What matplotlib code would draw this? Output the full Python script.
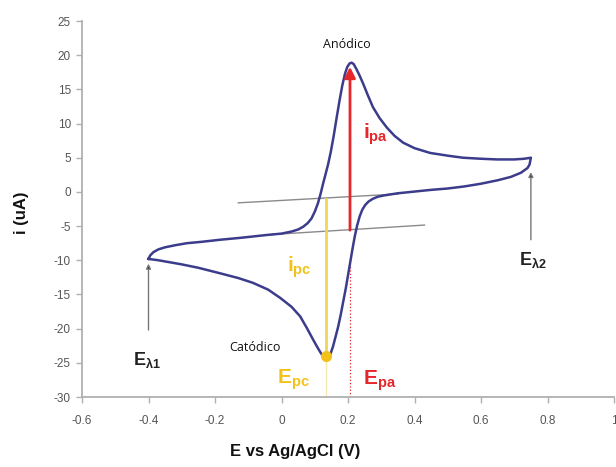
import matplotlib
matplotlib.use("Agg")
import matplotlib.pyplot as plt

plt.rcParams['mathtext.fontset'] = 'custom'
plt.rcParams['mathtext.rm'] = 'Liberation Sans'
plt.rcParams['mathtext.bf'] = 'Liberation Sans:bold'
plt.rcParams['mathtext.it'] = 'Liberation Sans:italic'

# Forward (anodic) sweep: from E_lambda1 to E_lambda2 (upper branch)
fwd_E = [-0.400, -0.395, -0.385, -0.370, -0.350, -0.320, -0.284, -0.240, -0.185, -0.120,
         -0.044, 0.000, 0.030, 0.050, 0.065, 0.078, 0.090, 0.100, 0.110, 0.118,
         0.125, 0.132, 0.140, 0.148, 0.157, 0.166, 0.175, 0.183, 0.191, 0.198,
         0.205, 0.211, 0.217, 0.225, 0.235, 0.245, 0.260, 0.275, 0.295, 0.317,
         0.340, 0.366, 0.400, 0.447, 0.500, 0.546, 0.600, 0.648, 0.700, 0.730,
         0.750]
fwd_i = [-9.8, -9.3, -8.8, -8.4, -8.1, -7.8, -7.5, -7.3, -7.0, -6.7,
         -6.3, -6.1, -5.8, -5.5, -5.1, -4.6, -3.9, -2.9, -1.6, -0.2,
         1.2, 2.5, 4.0, 5.8, 8.2, 10.9, 13.5, 15.6, 17.3, 18.3,
         18.8, 18.9, 18.7, 18.0, 17.0, 15.9, 14.1, 12.4, 10.8, 9.4,
         8.2, 7.2, 6.4, 5.7, 5.3, 5.0, 4.85, 4.75, 4.75, 4.85,
         5.0]
# Reverse (cathodic) sweep: from E_lambda2 back to E_lambda1 (lower branch)
rev_E = [0.750, 0.746, 0.740, 0.720, 0.690, 0.650, 0.600, 0.550, 0.500, 0.450,
         0.400, 0.350, 0.310, 0.290, 0.275, 0.262, 0.252, 0.243, 0.235, 0.227,
         0.220, 0.214, 0.207, 0.200, 0.193, 0.185, 0.178, 0.170, 0.162, 0.155,
         0.148, 0.141, 0.135, 0.128, 0.120, 0.110, 0.095, 0.075, 0.056, 0.030,
         -0.004, -0.040, -0.086, -0.130, -0.185, -0.250, -0.300, -0.335, -0.370, -0.400]
rev_i = [5.0, 4.0, 3.5, 2.8, 2.2, 1.7, 1.2, 0.8, 0.5, 0.3,
         0.05, -0.2, -0.5, -0.7, -1.0, -1.4, -1.9, -2.6, -3.6, -5.0,
         -6.6, -8.2, -10.2, -12.2, -14.2, -16.2, -18.0, -19.8, -21.3, -22.6,
         -23.6, -24.2, -24.3, -24.1, -23.7, -22.9, -21.6, -19.8, -18.2, -16.8,
         -15.5, -14.3, -13.3, -12.6, -11.9, -11.1, -10.6, -10.3, -10.0, -9.8]

# Baselines
base_up_E = [-0.13, 0.35]
base_up_i = [-1.6, -0.3]
base_lo_E = [-0.05, 0.43]
base_lo_i = [-6.3, -4.85]

# Peak values
Epa, ipa_top, ipa_base = 0.206, 18.3, -5.6
Epc, ipc_bot, ipc_base = 0.134, -24.0, -1.0

xticks = [-0.6, -0.4, -0.2, 0, 0.2, 0.4, 0.6, 0.8, 1]
xtick_labels = ['-0.6', '-0.4', '-0.2', '0', '0.2', '0.4', '0.6', '0.8', '1']
yticks = [-30, -25, -20, -15, -10, -5, 0, 5, 10, 15, 20, 25]
ytick_labels = [str(v) for v in yticks]

RED = '#e5262b'
YEL = '#f2c21b'
YEL_LINE = '#eed55c'
CURVE = '#3c3c8c'
TICKC = '#555555'

fig = plt.figure(figsize=(6.16, 4.67), dpi=100)
ax = fig.add_axes([82/616, 70/467, 532/616, 376/467])

ax.plot(fwd_E + rev_E, fwd_i + rev_i, color=CURVE, lw=1.8, zorder=3,
        solid_joinstyle='round')
ax.plot(base_up_E, base_up_i, color='#8a8a8a', lw=1.0, zorder=2)
ax.plot(base_lo_E, base_lo_i, color='#8a8a8a', lw=1.0, zorder=2)

# dotted guides to axis
ax.plot([Epa, Epa], [-30, -10.5], color=RED, lw=0.9, ls=':', zorder=2)
ax.plot([Epc, Epc], [-30, ipc_bot], color=YEL_LINE, lw=0.9, ls='-', alpha=0.5, zorder=2)

# i_pc line with dot
ax.plot([Epc, Epc], [ipc_base, ipc_bot], color=YEL_LINE, lw=2.0, zorder=4)
ax.plot([Epc], [ipc_bot], 'o', color=YEL, ms=7, zorder=5)

# i_pa arrow
ax.annotate('', xy=(Epa, ipa_top), xytext=(Epa, ipa_base),
            arrowprops=dict(arrowstyle='-|>', color=RED, lw=2.0, mutation_scale=16,
                            shrinkA=0, shrinkB=0), zorder=5)

# E_lambda arrows
ax.annotate('', xy=(-0.40, -10.5), xytext=(-0.40, -20.2),
            arrowprops=dict(arrowstyle='-|>', color='#777777', lw=1.0, mutation_scale=7,
                            shrinkA=0, shrinkB=0, fc='#222222', ec='#777777'))
ax.annotate('', xy=(0.75, 2.9), xytext=(0.75, -7.0),
            arrowprops=dict(arrowstyle='-|>', color='#777777', lw=1.0, mutation_scale=7,
                            shrinkA=0, shrinkB=0, fc='#222222', ec='#777777'))

# texts
ax.text(0.196, 21.5, 'Anódico', fontsize=9, family='Open Sans', ha='center', va='center', color='#111111')
ax.text(-0.08, -22.7, 'Catódico', fontsize=9, family='Open Sans', ha='center', va='center', color='#111111')
ax.text(0.245, 8.5, r'$\mathbf{i_{pa}}$', fontsize=15, color=RED, ha='left', va='center')
ax.text(0.017, -11.0, r'$\mathbf{i_{pc}}$', fontsize=15, color=YEL, ha='left', va='center')
ax.text(0.245, -27.6, r'$\mathbf{E_{pa}}$', fontsize=15, color=RED, ha='left', va='center')
ax.text(-0.015, -27.5, r'$\mathbf{E_{pc}}$', fontsize=15, color=YEL, ha='left', va='center')
ax.text(-0.405, -24.6, r'$\mathbf{E_{λ1}}$', fontsize=13, color='#222222', ha='center', va='center')
ax.text(0.757, -10.0, r'$\mathbf{E_{λ2}}$', fontsize=13, color='#222222', ha='center', va='center')

ax.set_xlim(-0.6, 1)
ax.set_ylim(-30, 25)
ax.set_xticks(xticks)
ax.set_xticklabels(xtick_labels)
ax.set_yticks(yticks)
ax.set_yticklabels(ytick_labels)

for s in ['top', 'right']:
    ax.spines[s].set_visible(False)
for s in ['left', 'bottom']:
    ax.spines[s].set_color('#b0b0b0')
    ax.spines[s].set_linewidth(1.3)
ax.tick_params(axis='both', colors='#b0b0b0', labelcolor=TICKC, labelsize=8.5, length=4, width=1.0)
ax.tick_params(axis='x', pad=9)
ax.tick_params(axis='y', pad=4)
for lab in ax.get_xticklabels() + ax.get_yticklabels():
    lab.set_family('Liberation Sans')

ax.set_xlabel('E vs Ag/AgCl (V)', fontsize=12, fontweight='bold', family='Liberation Sans', color='#111111')
ax.xaxis.set_label_coords(0.40, -0.125)
ax.set_ylabel('i (uA)', fontsize=12, fontweight='bold', family='Liberation Sans', color='#111111')
ax.yaxis.set_label_coords(-0.10, 0.49)

fig.savefig('out.png', dpi=100)
